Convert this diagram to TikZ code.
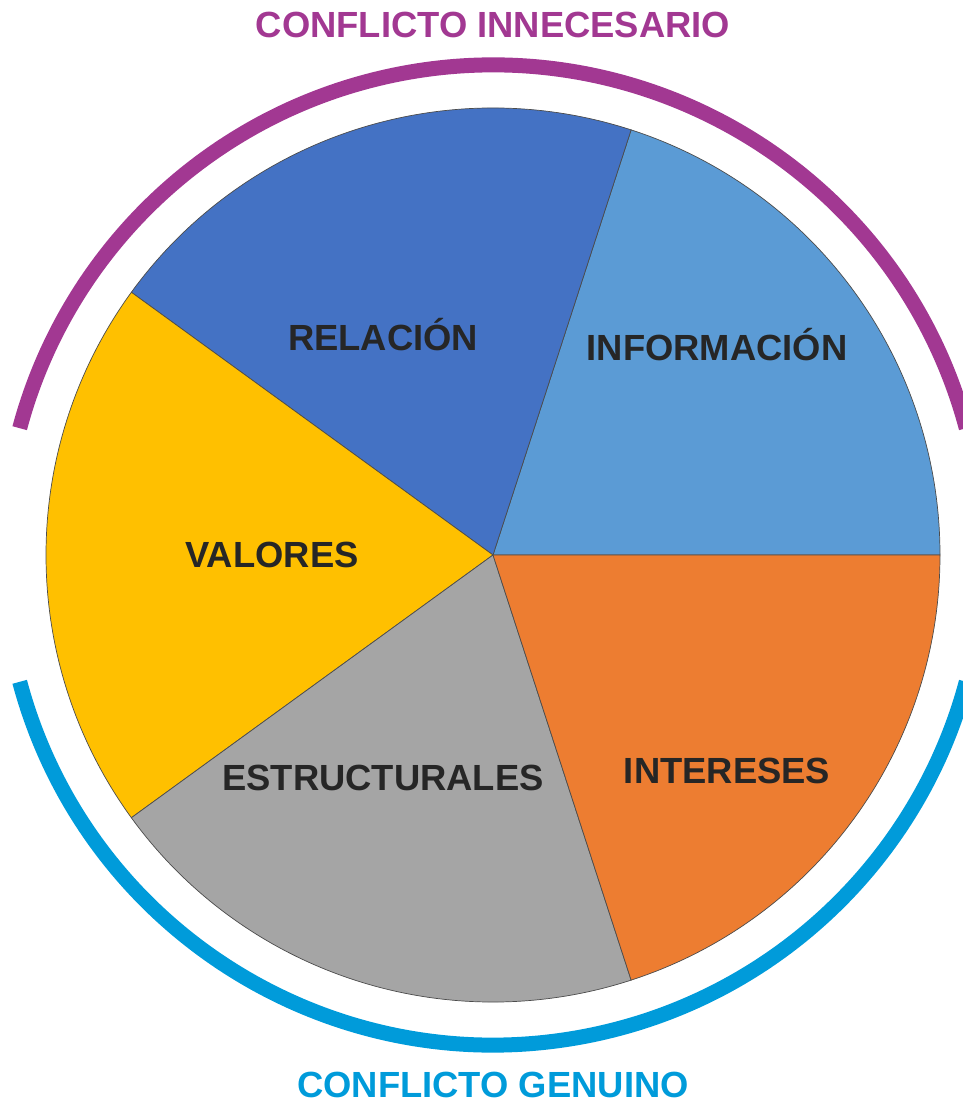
\documentclass[tikz,border=0pt]{standalone}
\usepackage{fontspec}
\setmainfont{Liberation Sans}
\usepackage{tikz}

\definecolor{infoblue}{RGB}{91,155,213}
\definecolor{relblue}{RGB}{68,114,196}
\definecolor{valyellow}{RGB}{255,192,0}
\definecolor{estgray}{RGB}{165,165,165}
\definecolor{intorange}{RGB}{237,125,49}
\definecolor{innpurple}{RGB}{162,56,146}
\definecolor{genblue}{RGB}{0,155,218}
\definecolor{labelgray}{RGB}{38,38,38}

\tikzset{
    wedge/.style={draw=black!70, line width=0.4pt},
    slicelabel/.style={text=labelgray, font=\fontsize{20.7}{24}\selectfont\bfseries},
    bandlabel/.style={font=\fontsize{20.7}{24}\selectfont\bfseries},
    band/.style={line width=0.3cm, line cap=butt}
}

\begin{document}
\begin{tikzpicture}
        \useasboundingbox (-9.86,-10.96) rectangle (9.40,11.10);
        % the five slices
        \draw[wedge, fill=infoblue] (0,0) -- (0:8.94) arc (0:72:8.94) -- cycle;
        \draw[wedge, fill=relblue] (0,0) -- (72:8.94) arc (72:144:8.94) -- cycle;
        \draw[wedge, fill=valyellow] (0,0) -- (144:8.94) arc (144:216:8.94) -- cycle;
        \draw[wedge, fill=estgray] (0,0) -- (216:8.94) arc (216:288:8.94) -- cycle;
        \draw[wedge, fill=intorange] (0,0) -- (288:8.94) arc (288:360:8.94) -- cycle;
        \node[slicelabel] (relacion) at (-2.2,4.4) {RELACIÓN};
        \node[slicelabel] (informacion) at (4.48,4.2) {INFORMACIÓN};
        \node[slicelabel] (valores) at (-4.42,0) {VALORES};
        \node[slicelabel] (estructurales) at (-2.2,-4.46) {ESTRUCTURALES};
        \node[slicelabel] (intereses) at (4.68,-4.32) {INTERESES};
        % outer bands
        \draw[band, innpurple] (15:9.8) arc (15:165:9.8);
        \draw[band, genblue] (195:9.8) arc (195:345:9.8);
        \node[bandlabel, text=innpurple] (innecesario) at (0,10.6) {CONFLICTO INNECESARIO};
        \node[bandlabel, text=genblue] (genuino) at (0,-10.6) {CONFLICTO GENUINO};
    \end{tikzpicture}
\end{document}
